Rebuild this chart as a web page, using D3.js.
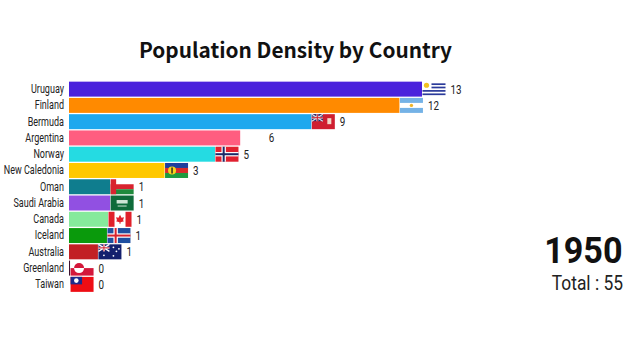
<!DOCTYPE html>
<html>
<head>
<meta charset="utf-8">
<script src="https://cdn.jsdelivr.net/npm/d3@7"></script>
<style>
  html, body { margin: 0; padding: 0; background: #fff; }
  svg { display: block; }
  text { fill: #111; }
</style>
</head>
<body>
<div id="chart"></div>
<script>
var countries = ["Uruguay", "Finland", "Bermuda", "Argentina", "Norway", "New Caledonia", "Oman", "Saudi Arabia", "Canada", "Iceland", "Australia", "Greenland", "Taiwan"];
var density = [13.3, 12.45, 9.13, 6.45, 5.5, 3.6, 1.55, 1.55, 1.47, 1.43, 1.09, 0.04, 0.04];
var barColors = ["#4a22dc", "#ff8a00", "#1fa8ee", "#ff5d80", "#25dbe2", "#ffc800", "#0f7d8e", "#9150e2", "#86ea9c", "#0a9a0c", "#c22024", "#3c1030", "#ffffff"];
// the frame shows Argentina's flag on Finland's row, and none on Argentina's
var flagNames = ["uruguay", "argentina", "bermuda", null, "norway", "newcaledonia", "oman", "saudi", "canada", "iceland", "australia", "greenland", "taiwan"];
var yearLabel = "1950";
var totalLabel = "Total : 55";

var width = 636, height = 360;
var flagW = 23, flagH = 15;

var svg = d3.select("#chart").append("svg")
  .attr("width", width)
  .attr("height", height);

var x = d3.scaleLinear().domain([0, 13.3]).range([69, 422]);
var y = d3.scaleBand().domain(countries).range([81, 292.5]).paddingInner(0.08).paddingOuter(0.04);

svg.append("text")
  .text("Population Density by Country")
  .attr("x", 295.5)
  .attr("y", 58)
  .attr("text-anchor", "middle")
  .style("font-family", "'Noto Sans CJK SC'")
  .style("font-weight", "700")
  .style("font-size", "20.8px");

var yAxis = d3.axisLeft(y).tickSize(0).tickPadding(0);
var axisG = svg.append("g")
  .attr("transform", "translate(64,0)")
  .call(yAxis);
axisG.select(".domain").remove();
axisG.selectAll("text")
  .attr("x", 0)
  .attr("transform", "scale(0.74,1)")
  .style("font-family", "Roboto")
  .style("font-size", "12.2px")
  .style("fill", "#222");

var rows = countries.map(function(c, i) {
  return { name: c, value: density[i], color: barColors[i], flag: flagNames[i] };
});

svg.selectAll("rect.bar")
  .data(rows)
  .enter().append("rect")
  .attr("class", "bar")
  .attr("x", x(0))
  .attr("y", function(d) { return y(d.name); })
  .attr("width", function(d) { return x(d.value) - x(0); })
  .attr("height", y.bandwidth())
  .attr("fill", function(d) { return d.color; });

// flags drawn in a local 23x15 box
var flagDraw = {
  uruguay: function(g) {
    rect(g, 0, 0, 23, 15, "#fff");
    [1.7, 5].forEach(function(v) { rect(g, 9, v, 14, 1.7, "#2a3a9a"); });
    [8.4, 11.8].forEach(function(v) { rect(g, 0, v, 23, 1.7, "#2a3a9a"); });
    circle(g, 4, 3.6, 2.6, "#f2c21f");
  },
  argentina: function(g) {
    rect(g, 0, 0, 23, 15, "#fff");
    rect(g, 0, 0, 23, 5, "#74b2e6");
    rect(g, 0, 10, 23, 5, "#74b2e6");
    circle(g, 11.5, 7.5, 1.7, "#eeb52a");
  },
  bermuda: function(g) {
    rect(g, 0, 0, 23, 15, "#cf1f30");
    rect(g, 0, 0, 11, 7, "#1f2c6e");
    line(g, 0, 0, 11, 7, "#e8e0e4", 1.2);
    line(g, 11, 0, 0, 7, "#e8e0e4", 1.2);
    rect(g, 4.5, 0, 2, 7, "#e8e0e4");
    rect(g, 0, 2.5, 11, 2, "#e8e0e4");
    rect(g, 5, 0, 1, 7, "#cf1f30");
    rect(g, 0, 3, 11, 1, "#cf1f30");
    rect(g, 15.5, 4, 4, 6, "#f1d8c8");
  },
  norway: function(g) {
    rect(g, 0, 0, 23, 15, "#e0202f");
    rect(g, 6, 0, 4.4, 15, "#fff");
    rect(g, 0, 5.3, 23, 4.4, "#fff");
    rect(g, 7.2, 0, 2, 15, "#1b2a68");
    rect(g, 0, 6.5, 23, 2, "#1b2a68");
  },
  newcaledonia: function(g) {
    rect(g, 0, 0, 23, 5, "#1f3f9e");
    rect(g, 0, 5, 23, 5, "#d92b2b");
    rect(g, 0, 10, 23, 5, "#1f9a3f");
    circle(g, 7, 7.5, 4, "#f7d51d");
    rect(g, 6.3, 4.5, 1.4, 6, "#222");
  },
  oman: function(g) {
    rect(g, 0, 0, 23, 5, "#fff");
    rect(g, 0, 5, 23, 5, "#d8232f");
    rect(g, 0, 10, 23, 5, "#1f8a3c");
    rect(g, 0, 0, 5.5, 15, "#d8232f");
  },
  saudi: function(g) {
    rect(g, 0, 0, 23, 15, "#0f6b3a");
    rect(g, 6, 4.5, 11, 3.5, "#cfe5d6");
    rect(g, 7, 10, 9, 1, "#cfe5d6");
  },
  canada: function(g) {
    rect(g, 0, 0, 23, 15, "#fff");
    rect(g, 0, 0, 6, 15, "#e0202a");
    rect(g, 17, 0, 6, 15, "#e0202a");
    g.append("path").attr("d", "M11.5 3 L13 6 L15.5 5.5 L14.5 8.5 L15.5 9.5 L12 10.5 L12 12 L11 12 L11 10.5 L7.5 9.5 L8.5 8.5 L7.5 5.5 L10 6 Z").attr("fill", "#e0202a");
  },
  iceland: function(g) {
    rect(g, 0, 0, 23, 15, "#1f4fa0");
    rect(g, 6, 0, 4.4, 15, "#fff");
    rect(g, 0, 5.3, 23, 4.4, "#fff");
    rect(g, 7.2, 0, 2, 15, "#d8232f");
    rect(g, 0, 6.5, 23, 2, "#d8232f");
  },
  australia: function(g) {
    rect(g, 0, 0, 23, 15, "#14206e");
    line(g, 0, 0, 11, 7, "#fff", 1.3);
    line(g, 11, 0, 0, 7, "#fff", 1.3);
    rect(g, 4.5, 0, 2, 7, "#fff");
    rect(g, 0, 2.5, 11, 2, "#fff");
    rect(g, 5, 0, 1, 7, "#cf1f30");
    rect(g, 0, 3, 11, 1, "#cf1f30");
    [[5.5, 11], [15, 11.5], [18, 7], [15, 3], [20.5, 4.5]].forEach(function(p) { circle(g, p[0], p[1], 0.9, "#fff"); });
  },
  greenland: function(g) {
    rect(g, 0, 0, 23, 7.5, "#fff");
    rect(g, 0, 7.5, 23, 7.5, "#d4173a");
    circle(g, 8.5, 7.5, 5, "#d4173a");
    g.append("path").attr("d", "M3.5 7.5 A5 5 0 0 0 13.5 7.5 Z").attr("fill", "#fff");
  },
  taiwan: function(g) {
    rect(g, 0, 0, 23, 15, "#ee0d14");
    rect(g, 0, 0, 11.5, 7.5, "#1c2a8c");
    circle(g, 5.75, 3.75, 2.3, "#fff");
  }
};

function rect(g, rx, ry, w, h, fill) {
  g.append("rect").attr("x", rx).attr("y", ry).attr("width", w).attr("height", h).attr("fill", fill);
}
function circle(g, cx, cy, r, fill) {
  g.append("circle").attr("cx", cx).attr("cy", cy).attr("r", r).attr("fill", fill);
}
function line(g, x1, y1, x2, y2, stroke, sw) {
  g.append("line").attr("x1", x1).attr("y1", y1).attr("x2", x2).attr("y2", y2).attr("stroke", stroke).attr("stroke-width", sw);
}

svg.selectAll("g.flag")
  .data(rows.filter(function(d) { return d.flag; }))
  .enter().append("g")
  .attr("class", "flag")
  .attr("transform", function(d) {
    return "translate(" + (x(d.value) + 0.5) + "," + (y(d.name) + (y.bandwidth() - flagH) / 2) + ")";
  })
  .each(function(d) { flagDraw[d.flag](d3.select(this)); });

svg.selectAll("text.value")
  .data(rows)
  .enter().append("text")
  .attr("class", "value")
  .text(function(d) { return Math.floor(d.value); })
  .attr("transform", function(d) {
    return "translate(" + (x(d.value) + flagW + 5.5) + "," + (y(d.name) + y.bandwidth() / 2 + 4.5) + ") scale(0.82,1)";
  })
  .style("font-family", "Roboto")
  .style("font-size", "12px")
  .style("fill", "#222");

svg.append("text")
  .text(yearLabel)
  .attr("transform", "translate(622.5,262.5) scale(0.91,1)")
  .attr("text-anchor", "end")
  .style("font-family", "Roboto")
  .style("font-weight", "700")
  .style("font-size", "37.5px");

svg.append("text")
  .text(totalLabel)
  .attr("transform", "translate(623,289.5) scale(0.87,1)")
  .attr("text-anchor", "end")
  .style("font-family", "Roboto")
  .style("font-size", "20px")
  .style("fill", "#222");
</script>
</body>
</html>
